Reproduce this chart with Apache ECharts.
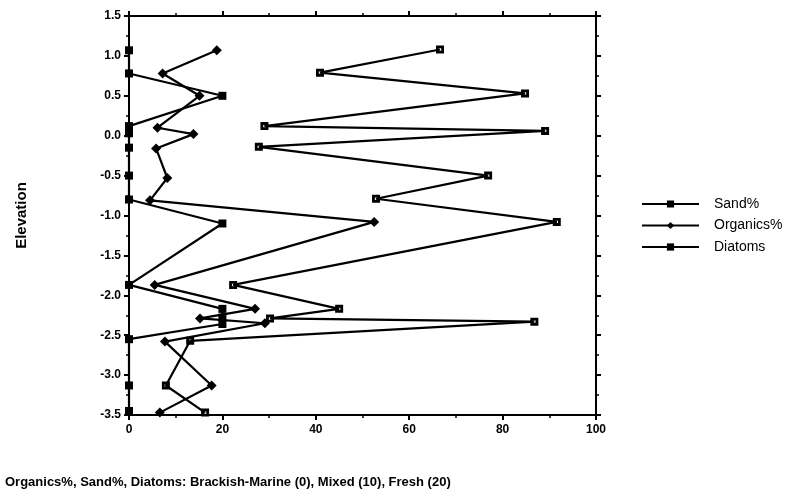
<!DOCTYPE html>
<html>
<head>
<meta charset="utf-8">
<script src="https://cdn.jsdelivr.net/npm/echarts@6/dist/echarts.min.js"></script>
<style>html,body{margin:0;padding:0;background:#fff}#c{width:789px;height:498px}</style>
</head>
<body>
<div id="c"></div>
<script>
// Data (value, elevation)
var sandElev = [1.08, 0.79, 0.53, 0.12, 0.06, -0.14, -0.50, -0.79, -1.08, -1.87, -2.17, -2.29, -2.33, -2.57, -3.13, -3.47];
var sandVals = [66.6, 40.9, 84.8, 29.0, 89.1, 27.8, 76.9, 52.9, 91.6, 22.3, 45.0, 30.2, 86.8, 13.1, 7.9, 16.3];

var orgElev = [1.07, 0.78, 0.50, 0.10, 0.02, -0.16, -0.53, -0.81, -1.08, -1.87, -2.17, -2.29, -2.35, -2.58, -3.13, -3.47];
var orgVals = [18.8, 7.2, 15.1, 6.1, 13.8, 5.8, 8.2, 4.5, 52.5, 5.5, 27.0, 15.2, 29.1, 7.7, 17.7, 6.6];

var diaElev = [1.07, 0.78, 0.50, 0.12, 0.03, -0.15, -0.50, -0.80, -1.10, -1.87, -2.17, -2.28, -2.36, -2.55, -3.13, -3.45];
var diaVals = [0, 0, 20, 0, 0, 0, 0, 0, 20, 0, 20, 20, 20, 0, 0, 0];

var seriesNames = ['Sand%', 'Organics%', 'Diatoms'];
var xTicks = {min: 0, max: 100, interval: 20};
var yTicks = {min: -3.5, max: 1.5, interval: 0.5};
var yAxisTitle = 'Elevation';
var bottomTitle = 'Organics%, Sand%, Diatoms: Brackish-Marine (0), Mixed (10), Fresh (20)';

function pairs(v, e) { return v.map(function (x, i) { return [x, e[i]]; }); }

var FONT = 'Liberation Sans, Arial, Helvetica, sans-serif';
var sandSymbol = 'path://M0,0L10,0L10,10L0,10Z M3.5,3.5L3.5,6.5L6.5,6.5L6.5,3.5Z';

var chart = echarts.init(document.getElementById('c'), null, {renderer: 'canvas'});

function axisCommon(pos, showLabel) {
  return {
    type: 'value',
    position: pos,
    axisLine: {show: true, onZero: false, lineStyle: {color: '#000', width: 2}},
    axisTick: {show: true, inside: false, length: 5, lineStyle: {color: '#000', width: 2}},
    minorTick: {show: true, splitNumber: 2, length: 3, lineStyle: {color: '#000', width: 1.5}},
    splitLine: {show: false},
    axisLabel: {show: showLabel, color: '#000', fontFamily: FONT, fontWeight: 'bold', fontSize: 12}
  };
}

var xBottom = Object.assign(axisCommon('bottom', true), {min: xTicks.min, max: xTicks.max, interval: xTicks.interval});
xBottom.axisLabel.margin = 9;
var xTop = Object.assign(axisCommon('top', false), {min: xTicks.min, max: xTicks.max, interval: xTicks.interval});
var yLeft = Object.assign(axisCommon('left', true), {
  min: yTicks.min, max: yTicks.max, interval: yTicks.interval,
  name: yAxisTitle, nameLocation: 'middle', nameRotate: 90, nameGap: 100,
  nameTextStyle: {color: '#000', fontFamily: FONT, fontWeight: 'bold', fontSize: 15}
});
yLeft.axisLabel.formatter = function (v) { return v.toFixed(1); };
yLeft.axisLabel.margin = 8;
var yRight = Object.assign(axisCommon('right', false), {min: yTicks.min, max: yTicks.max, interval: yTicks.interval});

var lineStyle = {color: '#000', width: 2.2};

chart.setOption({
  backgroundColor: '#fff',
  animation: false,
  title: {
    text: bottomTitle,
    left: 0, top: 471,
    textStyle: {color: '#000', fontFamily: FONT, fontWeight: 'bold', fontSize: 13}
  },
  grid: {left: 129, right: 193, top: 16, bottom: 83, containLabel: false},
  legend: {
    orient: 'vertical',
    left: 636, top: 192,
    itemWidth: 57, itemHeight: 9, itemGap: 7.5,
    data: seriesNames,
    textStyle: {color: '#000', fontFamily: FONT, fontSize: 14, padding: [0, 0, 0, 10]}
  },
  xAxis: [xBottom, xTop],
  yAxis: [yLeft, yRight],
  series: [
    {
      name: seriesNames[0], type: 'line', xAxisIndex: 0, yAxisIndex: 0,
      data: pairs(sandVals, sandElev),
      symbol: sandSymbol, symbolSize: 8,
      itemStyle: {color: '#000'}, lineStyle: lineStyle
    },
    {
      name: seriesNames[1], type: 'line', xAxisIndex: 0, yAxisIndex: 0,
      data: pairs(orgVals, orgElev),
      symbol: 'diamond', symbolSize: 10,
      itemStyle: {color: '#000'}, lineStyle: lineStyle
    },
    {
      name: seriesNames[2], type: 'line', xAxisIndex: 0, yAxisIndex: 0,
      data: pairs(diaVals, diaElev),
      symbol: 'rect', symbolSize: 8,
      itemStyle: {color: '#000'}, lineStyle: lineStyle
    }
  ]
});
</script>
</body>
</html>
